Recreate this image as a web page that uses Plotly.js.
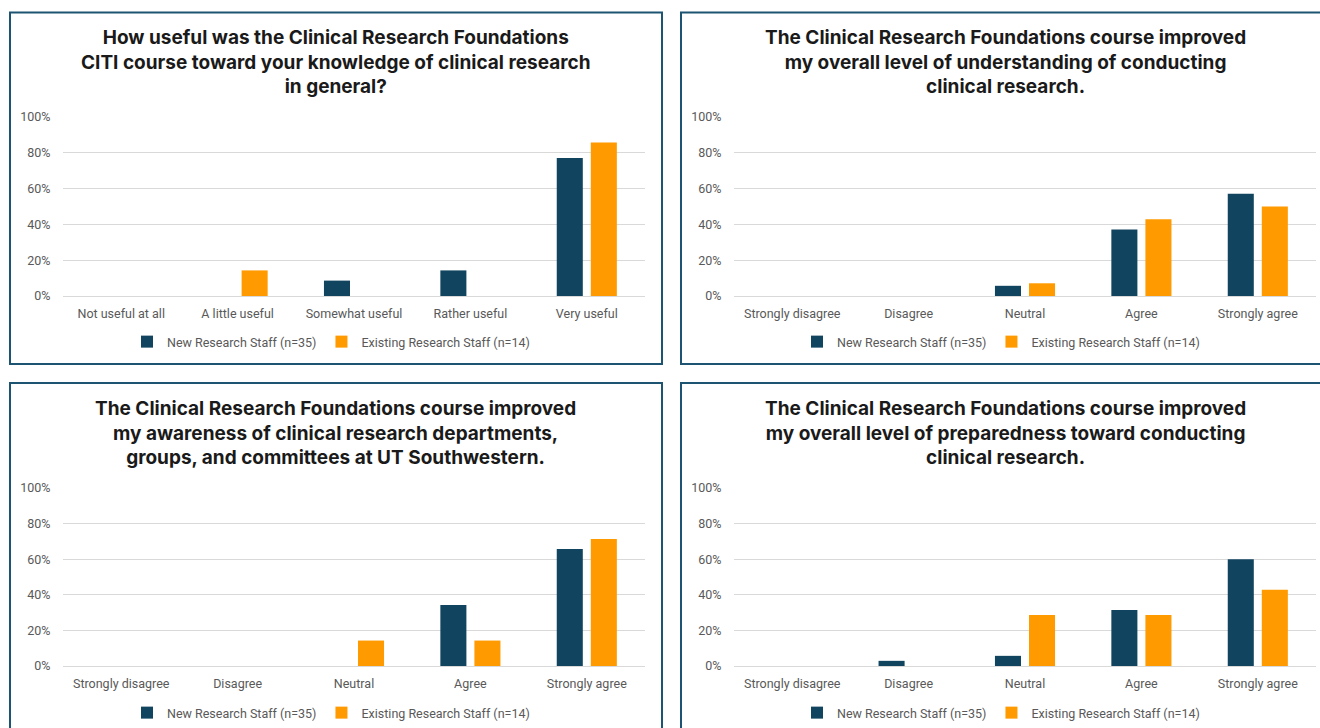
<!DOCTYPE html>
<html>
<head>
<meta charset="utf-8">
<script src="https://cdn.plot.ly/plotly-3.0.1.min.js"></script>
<style>html,body{margin:0;padding:0;background:#fff;}#chart{width:1320px;height:728px;}</style>
</head>
<body>
<div id="chart"></div>
<script>
// ---- Data ----
const usefulCategories = ["Not useful at all", "A little useful", "Somewhat useful", "Rather useful", "Very useful"];
const agreeCategories = ["Strongly disagree", "Disagree", "Neutral", "Agree", "Strongly agree"];
const seriesNames = ["New Research Staff (n=35)", "Existing Research Staff (n=14)"];

const titles = [
  "How useful was the Clinical Research Foundations<br>CITI course toward your knowledge of clinical research<br>in general?",
  "The Clinical Research Foundations course improved<br>my overall level of understanding of conducting<br>clinical research.",
  "The Clinical Research Foundations course improved<br>my awareness of clinical research departments,<br>groups, and committees at UT Southwestern.",
  "The Clinical Research Foundations course improved<br>my overall level of preparedness toward conducting<br>clinical research."
];

// Panel 1: usefulness of CITI course
const p1New = [0, 0, 0.086, 0.143, 0.771];
const p1Existing = [0, 0.143, 0, 0, 0.857];
// Panel 2: understanding
const p2New = [0, 0, 0.057, 0.371, 0.571];
const p2Existing = [0, 0, 0.071, 0.429, 0.500];
// Panel 3: awareness
const p3New = [0, 0, 0, 0.343, 0.657];
const p3Existing = [0, 0, 0.143, 0.143, 0.714];
// Panel 4: preparedness
const p4New = [0, 0.029, 0.057, 0.314, 0.600];
const p4Existing = [0, 0, 0.286, 0.286, 0.429];

// ---- Layout helpers ----
const W = 1320, H = 728;
const px = x => x / W;
const py = y => 1 - y / H;

const NEW_COLOR = "#11455f";
const EXIST_COLOR = "#ff9a00";
const TICK_COLOR = "#595959";
const GRID_COLOR = "#d9d9d9";
const BORDER_COLOR = "#1d5472";
const TICK_FONT = {family: "Roboto, 'Liberation Sans', sans-serif", size: 12.5, color: TICK_COLOR};

const panels = [
  {cats: usefulCategories, a: p1New, b: p1Existing, x0: 63, x1: 645, yTop: 117, yBot: 296, box: [10, 12.5, 662, 364], tx: 336, ty: 62, ly: 342, lx: 331},
  {cats: agreeCategories, a: p2New, b: p2Existing, x0: 734, x1: 1316, yTop: 117, yBot: 296, box: [681, 12.5, 1333, 364], tx: 1005, ty: 62, ly: 342, lx: 1001},
  {cats: agreeCategories, a: p3New, b: p3Existing, x0: 63, x1: 645, yTop: 488, yBot: 666, box: [10, 383, 662, 735], tx: 336, ty: 433, ly: 713, lx: 331},
  {cats: agreeCategories, a: p4New, b: p4Existing, x0: 734, x1: 1316, yTop: 488, yBot: 666, box: [681, 383, 1333, 735], tx: 1005, ty: 433, ly: 713, lx: 1001}
];

const traces = [];
const layout = {
  width: W, height: H,
  margin: {l: 0, r: 0, t: 0, b: 0},
  paper_bgcolor: "#ffffff",
  plot_bgcolor: "rgba(0,0,0,0)",
  barmode: "group",
  bargap: 0.415,
  bargroupgap: 0.235,
  showlegend: true,
  hovermode: false,
  shapes: [],
  annotations: []
};

panels.forEach((p, i) => {
  const n = i === 0 ? "" : String(i + 1);
  const xa = "x" + n, ya = "y" + n;
  const lg = "legend" + n;
  traces.push({type: "bar", x: p.cats, y: p.a, name: seriesNames[0], marker: {color: NEW_COLOR}, xaxis: xa, yaxis: ya, legend: lg});
  traces.push({type: "bar", x: p.cats, y: p.b, name: seriesNames[1], marker: {color: EXIST_COLOR}, xaxis: xa, yaxis: ya, legend: lg});

  layout["xaxis" + n] = {
    domain: [px(p.x0), px(p.x1)], anchor: ya,
    type: "category", range: [-0.5, 4.5], fixedrange: true,
    showgrid: false, zeroline: false, showline: false,
    ticks: "outside", ticklen: 6, tickcolor: "rgba(0,0,0,0)",
    tickfont: TICK_FONT, tickangle: 0
  };
  layout["yaxis" + n] = {
    domain: [py(p.yBot), py(p.yTop)], anchor: xa,
    range: [0, 1], dtick: 0.2, tickformat: ".0%", fixedrange: true,
    showgrid: true, gridcolor: GRID_COLOR, gridwidth: 1,
    zeroline: true, zerolinecolor: GRID_COLOR, zerolinewidth: 1, showline: false,
    ticks: "outside", ticklen: 9, tickcolor: "rgba(0,0,0,0)",
    tickfont: TICK_FONT
  };
  layout[lg] = {
    orientation: "h", x: px(p.lx), y: py(p.ly), xanchor: "center", yanchor: "middle",
    font: {family: "Roboto, 'Liberation Sans', sans-serif", size: 12.5, color: TICK_COLOR},
    itemwidth: 30, traceorder: "normal", bgcolor: "rgba(0,0,0,0)"
  };
  layout.shapes.push({type: "rect", xref: "paper", yref: "paper",
    x0: px(p.box[0]), x1: px(p.box[2]), y0: py(p.box[3]), y1: py(p.box[1]),
    line: {color: BORDER_COLOR, width: 2}, fillcolor: "rgba(0,0,0,0)", layer: "above"});
  layout.annotations.push({xref: "paper", yref: "paper", x: px(p.tx), y: py(p.ty),
    xanchor: "center", yanchor: "middle", showarrow: false, align: "center",
    text: titles[i],
    font: {family: "Inter, 'Open Sans', sans-serif", size: 19, weight: 700, color: "#1a1a1a"}});
});

Plotly.newPlot("chart", traces, layout, {staticPlot: true, displayModeBar: false});
</script>
</body>
</html>
